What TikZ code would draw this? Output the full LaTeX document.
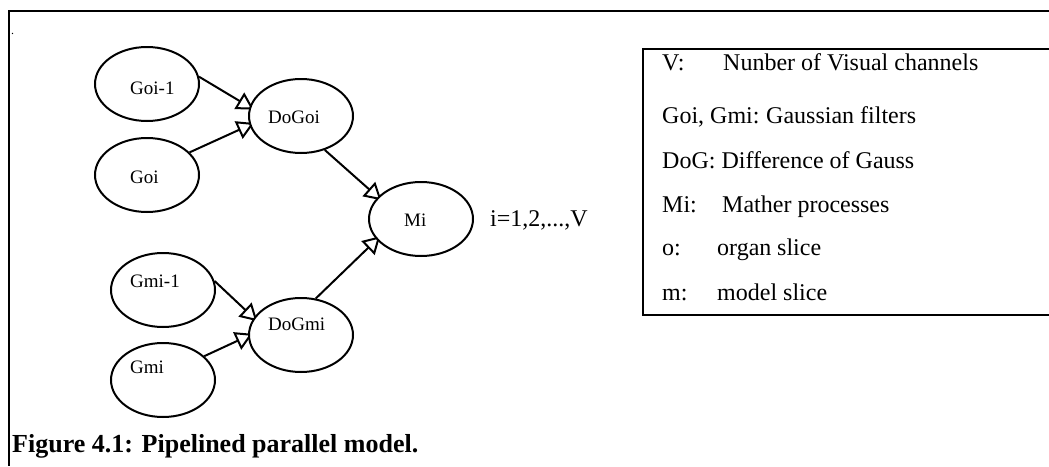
\documentclass[tikz,border=0pt]{standalone}
\usepackage{fontspec}
\setmainfont{Liberation Serif}
\usetikzlibrary{arrows.meta,shapes.geometric,backgrounds}
\begin{document}
\begin{tikzpicture}[x=1pt,y=-1pt,
  ell/.style={draw,ellipse,line width=2pt,minimum width=104pt,minimum height=74pt,inner sep=0pt,fill=white},
  lbl/.style={anchor=base west,inner sep=0pt,font=\fontsize{19}{19}\selectfont},
  leg/.style={anchor=base west,inner sep=0pt,font=\fontsize{24}{24}\selectfont},
  arr/.style={line width=2pt,shorten >=-5pt,-{Triangle[open,length=17pt,width=19pt,line width=2pt]}},
  frame/.style={line width=2pt}]
\useasboundingbox (0,0) rectangle (1049,466);
% outer frame (right and bottom sides lie outside the picture)
\draw[frame] (1049,11) -- (9,11) -- (9,466);
\node[anchor=base west,inner sep=0pt,font=\fontsize{12}{12}\selectfont] (dot) at (11,34) {.};
% ellipses
\node[ell] (goi1) at (147,84) {};
\node[ell] (goi) at (147,175) {};
\node[ell] (dogoi) at (301,116) {};
\node[ell] (mi) at (421,219) {};
\node[ell] (gmi1) at (163,290) {};
\node[ell] (gmi) at (163,380) {};
\node[ell] (dogmi) at (301,335) {};
% labels
\node[lbl] (tgoi1) at (130,94) {Goi-1};
\node[lbl] (tgoi) at (130,183) {Goi};
\node[lbl] (tdogoi) at (268,123) {DoGoi};
\node[lbl] (tmi) at (404,226) {Mi};
\node[lbl] (tgmi1) at (130,287) {Gmi-1};
\node[lbl] (tgmi) at (130,373) {Gmi};
\node[lbl] (tdogmi) at (268,330) {DoGmi};
% connectors (tips tucked under the white ellipses)
\begin{pgfonlayer}{background}
\draw[arr] (goi1.8) -- (dogoi.170);
\draw[arr] (goi.28) -- (dogoi.190);
\draw[arr] (dogoi.305) -- (mi.153);
\draw[arr] (dogmi.68) -- (mi.205);
\draw[arr] (gmi1.10) -- (dogmi.160);
\draw[arr] (gmi.30) -- (dogmi.181);
\end{pgfonlayer}
% index text
\node[leg] (idx) at (490,226) {i=1,2,...,V};
% legend box (right side lies outside the picture)
\draw[frame] (1049,49) -- (643,49) -- (643,315) -- (1049,315);
\node[leg] (l1a) at (662,70) {V:};
\node[leg] (l1b) at (723,70) {Nunber of Visual channels};
\node[leg] (l2a) at (662,123) {Goi, Gmi:};
\node[leg] (l2b) at (766,123) {Gaussian filters};
\node[leg] (l3) at (662,168) {DoG: Difference of Gauss};
\node[leg] (l4a) at (662,212) {Mi:};
\node[leg] (l4b) at (722,212) {Mather processes};
\node[leg] (l5a) at (662,255) {o:};
\node[leg] (l5b) at (717,255) {organ};
\node[leg] (l5c) at (777,255) {slice};
\node[leg] (l6a) at (662,300) {m:};
\node[leg] (l6b) at (717,300) {model slice};
% caption
\node[anchor=base west,inner sep=0pt,font=\fontsize{26}{26}\selectfont\bfseries] (cap) at (12,452) {Figure 4.1: Pipelined parallel model.};
\end{tikzpicture}
\end{document}
